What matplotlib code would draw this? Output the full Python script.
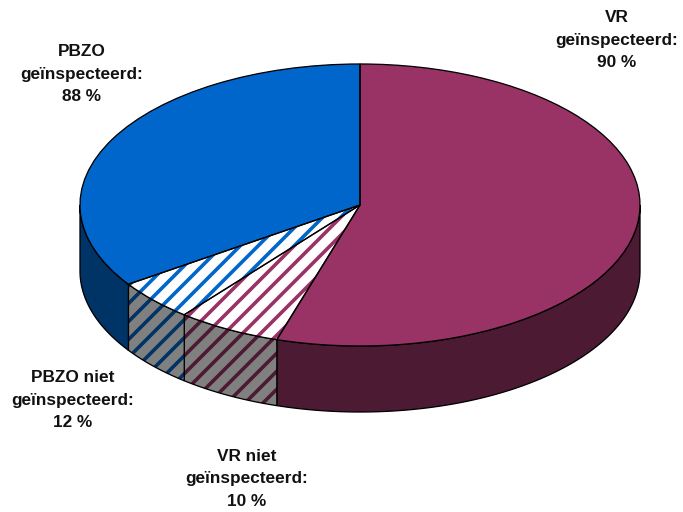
import numpy as np
import matplotlib
matplotlib.use("Agg")
import matplotlib.pyplot as plt
from matplotlib.patches import Polygon

# data: share of the whole pie, clockwise from 12 o'clock
labels = ["VR\ngeïnspecteerd:\n90 %", "VR niet\ngeïnspecteerd:\n10 %",
          "PBZO niet\ngeïnspecteerd:\n12 %", "PBZO\ngeïnspecteerd:\n88 %"]
values = [54.8, 6.0, 4.7, 34.5]
top_colors = ["#993366", "#ffffff", "#ffffff", "#0066cc"]
hatch_colors = ["#993366", "#993366", "#0066cc", "#0066cc"]
hatches = [None, "//", "//", None]
side_colors = ["#4d1a33", "#808080", "#808080", "#003366"]
side_hatch = ["#4d1a33", "#4d1a33", "#003366", "#003366"]

# layout in pixels
W, H = 683, 512
cx, cy, rx, ry, depth = 360, 205, 280, 141, 66
label_pos = [(617, 40), (247, 479), (73, 400), (82, 74)]

# hatch tile size follows the dpi, 108 gives the wider stripes of the original
DPI = 108
px = 72 / DPI

plt.rcParams["font.family"] = ["Liberation Sans", "DejaVu Sans"]
plt.rcParams["hatch.linewidth"] = 3.6 * px

fig = plt.figure(figsize=(W / DPI, H / DPI), dpi=DPI)
ax = fig.add_axes([0, 0, 1, 1])
d = depth / ry

# side of the cylinder first
edges = np.cumsum([0] + values) / sum(values) * 2 * np.pi
for i in range(len(values)):
    a0 = max(edges[i], np.pi / 2)
    a1 = min(edges[i + 1], 3 * np.pi / 2)
    if a1 <= a0:
        continue
    t = np.linspace(a0, a1, 100)
    x = np.sin(t)
    y = np.cos(t)
    pts = np.r_[np.c_[x, y], np.c_[x[::-1], y[::-1] - d]]
    ec = side_hatch[i] if hatches[i] else side_colors[i]
    ax.add_patch(Polygon(pts, closed=True, facecolor=side_colors[i], edgecolor=ec,
                         hatch=hatches[i], linewidth=0))
    ax.add_patch(Polygon(pts, closed=True, fill=False, edgecolor="black", linewidth=1.3 * px))

# top face, hatch colour is the edge colour so the outline comes from a second pie
wedges, _ = ax.pie(values, colors=top_colors, startangle=90, counterclock=False,
                   radius=1, center=(0, 0), normalize=True)
for w, hc, h in zip(wedges, hatch_colors, hatches):
    w.set_edgecolor(hc)
    w.set_hatch(h)
    w.set_linewidth(0)
ax.pie(values, colors=["none"] * 4, startangle=90, counterclock=False, radius=1,
       center=(0, 0), normalize=True,
       wedgeprops=dict(edgecolor="black", linewidth=1.3 * px))

ax.set_aspect("auto")
ax.set_xlim(-cx / rx, (W - cx) / rx)
ax.set_ylim((cy - H) / ry, cy / ry)
ax.axis("off")

for text, (lx, ly) in zip(labels, label_pos):
    fig.text(lx / W, 1 - ly / H, text, ha="center", va="center", fontsize=17.3 * px,
             fontweight="bold", color="#111111", linespacing=1.65)

fig.savefig("out.png", dpi=DPI, facecolor="white")
